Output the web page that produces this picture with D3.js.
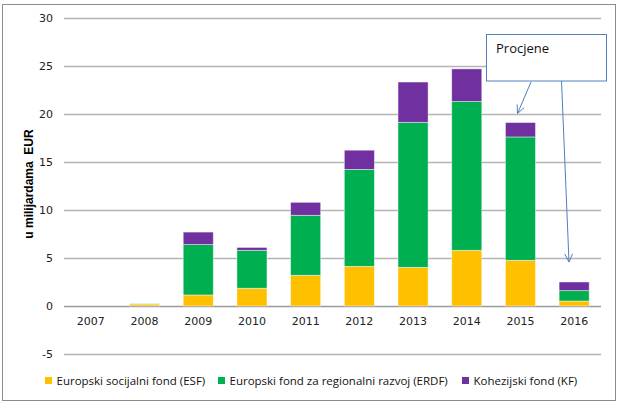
<!DOCTYPE html>
<html><head><meta charset="utf-8">
<script src="https://cdn.jsdelivr.net/npm/d3@7"></script>
<style>
body{margin:0;background:#fff;}
svg{display:block;}
</style></head>
<body>
<svg id="chart" width="620" height="404"></svg>
<script>
const years = ["2007","2008","2009","2010","2011","2012","2013","2014","2015","2016"];
const esf  = [0, 0.2, 1.15, 1.85, 3.2, 4.13, 4.03, 5.8, 4.76, 0.52];
const erdf = [0, 0.03, 5.25, 3.95, 6.25, 10.1, 15.1, 15.5, 12.85, 1.08];
const kf   = [0, 0, 1.3, 0.3, 1.35, 2.0, 4.2, 3.4, 1.5, 0.9];
const seriesNames = ["Europski socijalni fond (ESF)", "Europski fond za regionalni razvoj (ERDF)", "Kohezijski fond (KF)"];
const seriesColors = ["#FFC000", "#00B050", "#7030A0"];
const yTicks = [-5, 0, 5, 10, 15, 20, 25, 30];
const yTitle = "u milijardama  EUR";
const annotationText = "Procjene";

const svg = d3.select("#chart");
const font = "'DejaVu Sans', Verdana, sans-serif";

// outer border
svg.append("rect").attr("x",2.5).attr("y",4.5).attr("width",613).attr("height",396)
  .attr("fill","#fff").attr("stroke","#8c8c8c").attr("stroke-width",1);

const x = d3.scaleBand().domain(years).range([64, 601]).paddingInner(0.44).paddingOuter(0.22);
const y = d3.scaleLinear().domain([-5, 30]).range([354, 18]);

// gridlines
svg.append("g").selectAll("line").data(yTicks).join("line")
  .attr("x1",64).attr("x2",601)
  .attr("y1",d=>Math.round(y(d))+0.5).attr("y2",d=>Math.round(y(d))+0.5)
  .attr("stroke",d=>d===0?"#9a9a9a":"#b5b5b5").attr("stroke-width",1.3);

// y axis labels
const yAxis = d3.axisLeft(y).tickValues(yTicks).tickSize(0).tickPadding(0).tickFormat(d=>String(d));
const gy = svg.append("g").attr("transform","translate(53,0)").call(yAxis);
gy.select(".domain").remove();
gy.selectAll("text").attr("font-family",font).attr("font-size",11).attr("fill","#222").attr("dy","0.36em");

// x axis labels
const xAxis = d3.axisBottom(x).tickSize(0).tickPadding(0);
const gx = svg.append("g").attr("transform","translate(0,317)").call(xAxis);
gx.select(".domain").remove();
gx.selectAll("text").attr("font-family",font).attr("font-size",11).attr("fill","#222").attr("dy","0.72em");

// y title
svg.append("text").attr("transform","translate(33,184) rotate(-90)")
  .attr("text-anchor","middle").attr("font-family","Arial, 'Liberation Sans', sans-serif")
  .attr("font-weight","bold").attr("font-size",12).attr("fill","#000")
  .style("white-space","pre").text(yTitle);

// stacked bars
const rows = years.map((yr,i)=>({year:yr, esf:esf[i], erdf:erdf[i], kf:kf[i]}));
const stack = d3.stack().keys(["esf","erdf","kf"])(rows);
svg.append("g").selectAll("g").data(stack).join("g")
  .attr("fill",(d,i)=>seriesColors[i])
  .selectAll("rect").data(d=>d.filter(s=>s[1]-s[0]>0)).join("rect")
  .attr("x",d=>x(d.data.year)).attr("width",x.bandwidth())
  .attr("y",d=>y(d[1])).attr("height",d=>y(d[0])-y(d[1]))
  .attr("stroke","#fff").attr("stroke-opacity",0.55).attr("stroke-width",0.8);

// legend
const legendX = [45, 218, 462];
const lg = svg.append("g");
seriesNames.forEach((n,i)=>{
  lg.append("rect").attr("x",legendX[i]).attr("y",377).attr("width",7).attr("height",7).attr("fill",seriesColors[i]);
  lg.append("text").attr("x",legendX[i]+11.5).attr("y",385).attr("font-family","'Open Sans', sans-serif")
    .attr("font-size",11.5).attr("fill","#111").text(n);
});

// annotation
const blue = "#4f81bd";
svg.append("rect").attr("x",486.5).attr("y",34.5).attr("width",120).attr("height",46.5)
  .attr("fill","#fff").attr("stroke",blue).attr("stroke-width",1);
svg.append("text").attr("x",496).attr("y",53).attr("font-family","'Open Sans', sans-serif")
  .attr("font-size",13).attr("fill","#111").text(annotationText);

function arrow(x1,y1,x2,y2){
  svg.append("line").attr("x1",x1).attr("y1",y1).attr("x2",x2).attr("y2",y2)
    .attr("stroke",blue).attr("stroke-width",1);
  const a = Math.atan2(y2-y1,x2-x1), L=9, s=0.45;
  const p = [[x2-L*Math.cos(a-s), y2-L*Math.sin(a-s)],[x2,y2],[x2-L*Math.cos(a+s), y2-L*Math.sin(a+s)]];
  svg.append("path").attr("d",d3.line()(p)).attr("fill","none").attr("stroke",blue).attr("stroke-width",1);
}
arrow(531, 82, 517.5, 113.5);
arrow(561.5, 81, 569, 262);
</script>
</body></html>
